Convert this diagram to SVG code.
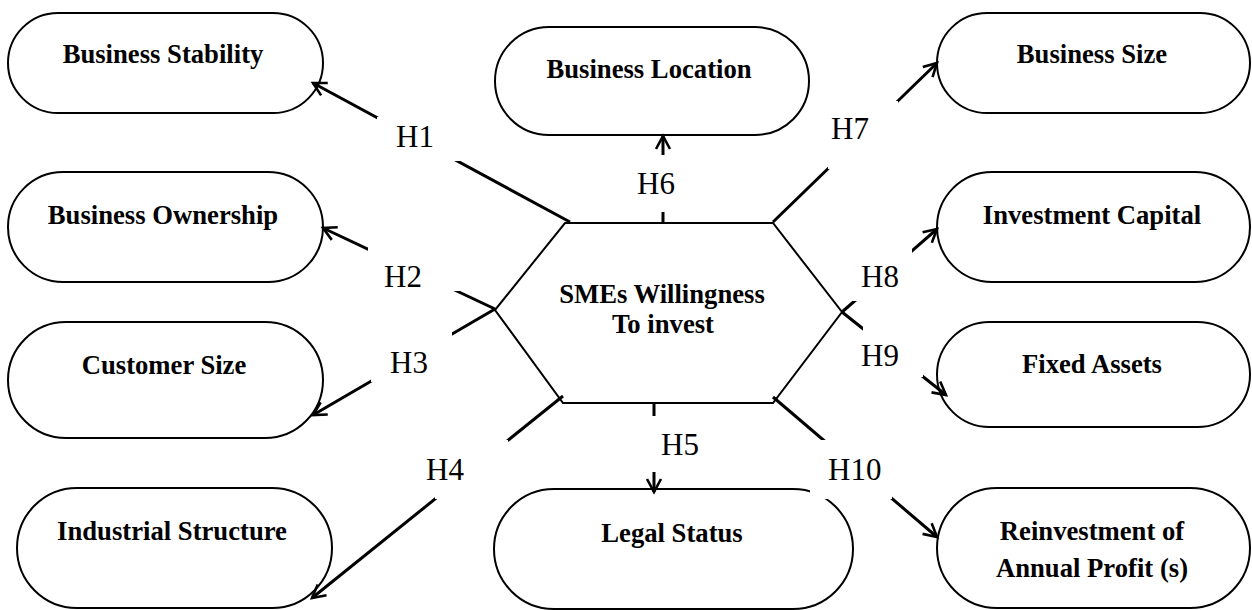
<svg xmlns="http://www.w3.org/2000/svg" width="1252" height="610" viewBox="0 0 1252 610">
<style>
.node{fill:#fff;stroke:#000;stroke-width:2}
.nt{font-family:"Liberation Serif","Times New Roman",serif;font-weight:bold;font-size:26.67px;text-anchor:middle;fill:#000}
.conn{stroke:#000;stroke-width:3;fill:none}
.lb{fill:#fff;stroke:none}
.lt{font-family:"Liberation Serif","Times New Roman",serif;font-size:31px;fill:#000}
</style>
<defs>
<marker id="arr" markerUnits="userSpaceOnUse" markerWidth="18" markerHeight="18" refX="14" refY="8" orient="auto" overflow="visible">
<path d="M1,1 L14,8 L1,15" fill="none" stroke="#000" stroke-width="2.6"/>
</marker>
</defs>
<rect width="1252" height="610" fill="#fff"/>
<g id="n-stability"><rect class="node" x="8" y="13" width="315" height="100" rx="50"/><text class="nt" x="163" y="63">Business Stability</text></g>
<g id="n-location"><rect class="node" x="495" y="27" width="314" height="108" rx="54"/><text class="nt" x="649" y="78">Business Location</text></g>
<g id="n-size"><rect class="node" x="937" y="13" width="313" height="100" rx="50"/><text class="nt" x="1092" y="63">Business Size</text></g>
<g id="n-ownership"><rect class="node" x="8" y="172" width="315" height="110" rx="55"/><text class="nt" x="163" y="224">Business Ownership</text></g>
<g id="n-capital"><rect class="node" x="937" y="172" width="313" height="110" rx="55"/><text class="nt" x="1092" y="224">Investment Capital</text></g>
<g id="n-customer"><rect class="node" x="8" y="322" width="315" height="116" rx="58"/><text class="nt" x="164" y="374">Customer Size</text></g>
<g id="n-assets"><rect class="node" x="937" y="322" width="313" height="105" rx="52.5"/><text class="nt" x="1092" y="373">Fixed Assets</text></g>
<g id="n-industrial"><rect class="node" x="17" y="488" width="315" height="120" rx="60"/><text class="nt" x="172" y="540">Industrial Structure</text></g>
<g id="n-legal"><rect class="node" x="494" y="489" width="359" height="120" rx="60"/><text class="nt" x="672" y="542">Legal Status</text></g>
<g id="n-reinvest"><rect class="node" x="937" y="488" width="313" height="120" rx="60"/><text class="nt" x="1092" y="540">Reinvestment of</text><text class="nt" x="1092" y="577">Annual Profit (s)</text></g>
<g id="n-center"><polygon class="node" points="495,310 565,223 773,223 842,312 773,403 563,403"/><text class="nt" x="662" y="303">SMEs Willingness</text><text class="nt" x="663" y="333">To invest</text></g>
<g id="connectors">
<line class="conn" x1="570" y1="222" x2="313" y2="83" marker-end="url(#arr)"/>
<line class="conn" x1="495" y1="309" x2="323" y2="228" marker-end="url(#arr)"/>
<line class="conn" x1="495" y1="309" x2="313" y2="415" marker-end="url(#arr)"/>
<line class="conn" x1="563" y1="396" x2="312" y2="598" marker-end="url(#arr)"/>
<line class="conn" x1="654" y1="404" x2="654" y2="492" marker-end="url(#arr)"/>
<line class="conn" x1="663" y1="223" x2="663" y2="136" marker-end="url(#arr)"/>
<line class="conn" x1="773" y1="222" x2="937" y2="63" marker-end="url(#arr)"/>
<line class="conn" x1="842" y1="312" x2="937" y2="229" marker-end="url(#arr)"/>
<line class="conn" x1="842" y1="312" x2="946" y2="395" marker-end="url(#arr)"/>
<line class="conn" x1="773" y1="397" x2="937" y2="537" marker-end="url(#arr)"/>
</g>
<g id="labels">
<rect class="lb" x="377" y="117" width="83" height="44"/><text class="lt" x="396" y="147">H1</text>
<rect class="lb" x="368" y="247" width="92" height="44"/><text class="lt" x="384" y="287">H2</text>
<rect class="lb" x="371" y="332" width="81" height="50"/><text class="lt" x="390" y="373">H3</text>
<rect class="lb" x="435" y="440" width="73" height="59"/><text class="lt" x="426" y="480">H4</text>
<rect class="lb" x="645" y="416" width="70" height="56"/><text class="lt" x="661" y="455">H5</text>
<rect class="lb" x="630" y="155" width="60" height="57"/><text class="lt" x="637" y="194">H6</text>
<rect class="lb" x="828" y="101" width="70" height="68"/><text class="lt" x="831" y="139">H7</text>
<rect class="lb" x="852" y="248" width="60" height="53"/><text class="lt" x="861" y="287">H8</text>
<rect class="lb" x="863" y="325" width="60" height="52"/><text class="lt" x="861" y="366">H9</text>
<rect class="lb" x="810" y="440" width="82" height="59"/><text class="lt" x="828" y="480">H10</text>
</g>
</svg>
